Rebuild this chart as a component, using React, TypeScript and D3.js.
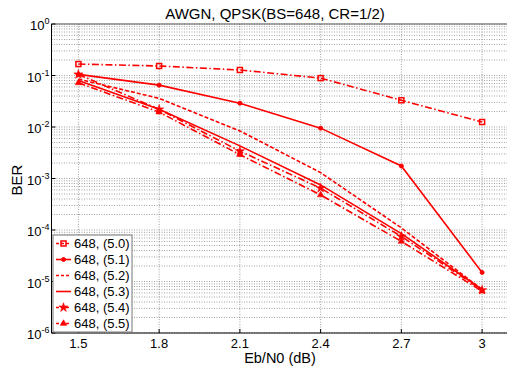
import React from "react";
import * as d3 from "d3";

const xTicks = [1.5, 1.8, 2.1, 2.4, 2.7, 3];
const xTickLabels = ["1.5", "1.8", "2.1", "2.4", "2.7", "3"];
const yExponents = [0, -1, -2, -3, -4, -5, -6];
const seriesNames = ["648, (5.0)", "648, (5.1)", "648, (5.2)", "648, (5.3)", "648, (5.4)", "648, (5.5)"];
const s50 = [0.167, 0.153, 0.128, 0.089, 0.033, 0.0125];
const s51 = [0.105, 0.065, 0.029, 0.0095, 0.00175, 1.5e-5];
const s52 = [0.085, 0.036, 0.0084, 0.0013, 1.1e-4, 7e-6];
const s53 = [0.08, 0.022, 0.0043, 7.5e-4, 8.5e-5, 7e-6];
const s54 = [0.105, 0.022, 0.0034, 6.5e-4, 7.5e-5, 6.8e-6];
const s55 = [0.072, 0.0195, 0.0029, 4.8e-4, 6e-5, 6.5e-6];
const seriesValues = [s50, s51, s52, s53, s54, s55];
const dashes = ["7,2.5,1.5,2.5", "none", "4,2", "none", "7,2.5,1.5,2.5", "7,2.5,1.5,2.5"];
const legendDashes = ["3,2", "none", "3,2", "none", "3,2", "3,2"];
const markers = ["square", "dot", "none", "none", "star", "triangle"];

const W = 507, H = 367;
const left = 51.5, top = 24, right = 509, bottom = 333;
const RED = "#ff0000";
const FONT = "Arial, 'Liberation Sans', sans-serif";

function Marker({ kind, x, y }: { kind: string; x: number; y: number }) {
  if (kind === "square") return <rect x={x - 2.5} y={y - 2.5} width={5} height={5} fill="none" stroke={RED} strokeWidth={1.5} />;
  if (kind === "dot") return <circle cx={x} cy={y} r={2} fill={RED} stroke={RED} />;
  if (kind === "star") {
    const p = d3.symbol(d3.symbolStar, 26)();
    return <path d={p || ""} transform={`translate(${x},${y})`} fill={RED} stroke={RED} strokeWidth={0.6} />;
  }
  if (kind === "triangle") {
    const p = d3.symbol(d3.symbolTriangle, 18)();
    return <path d={p || ""} transform={`translate(${x},${y})`} fill={RED} stroke={RED} strokeWidth={0.6} />;
  }
  return null;
}

export default function App() {
  const x = d3.scaleLinear().domain([1.4, 3.1]).range([left, right]);
  const y = d3.scaleLog().domain([1e-6, 1]).range([bottom, top]);
  const line = d3.line<number>().x((_, i) => x(xTicks[i])).y((v) => y(v));

  const minor: number[] = [];
  for (let e = -6; e < 0; e++) for (let m = 2; m <= 9; m++) minor.push(m * Math.pow(10, e));

  const legX = 53, legY = 235, legW = 79, legH = 97, rowH = 16;

  return (
    <svg width={W} height={H} style={{ position: "absolute", left: 0, top: 0, background: "#fff" }} fontFamily={FONT}>
      <rect x={0} y={0} width={W} height={H} fill="#fff" />
      <defs>
        <clipPath id="plotclip"><rect x={left} y={top} width={right - left} height={bottom - top} /></clipPath>
      </defs>
      {/* grid */}
      <g stroke="#8a8a8a" strokeWidth={0.8} strokeDasharray="1,1.5">
        {minor.map((v, i) => <line key={"m" + i} x1={left} x2={right} y1={y(v)} y2={y(v)} />)}
        {yExponents.map((e) => <line key={"M" + e} x1={left} x2={right} y1={y(Math.pow(10, e))} y2={y(Math.pow(10, e))} />)}
        {xTicks.map((t) => <line key={"x" + t} x1={x(t)} x2={x(t)} y1={top} y2={bottom} />)}
      </g>
      {/* axes box */}
      <g stroke="#000" strokeWidth={1} fill="none">
        <line x1={left} x2={right} y1={top} y2={top} stroke="#555" />
        <line x1={left} x2={right} y1={bottom} y2={bottom} />
        <line x1={left} x2={left} y1={top} y2={bottom} />
        {xTicks.map((t) => <line key={"tb" + t} x1={x(t)} x2={x(t)} y1={bottom} y2={bottom - 4} />)}
        {yExponents.map((e) => <line key={"tl" + e} x1={left} x2={left + 4} y1={y(Math.pow(10, e))} y2={y(Math.pow(10, e))} />)}
      </g>
      {/* series */}
      <g clipPath="url(#plotclip)">
        {seriesValues.map((vals, si) => (
          <g key={si}>
            <path d={line(vals) || ""} fill="none" stroke={RED} strokeWidth={1.6} strokeDasharray={dashes[si]} />
            {vals.map((v, i) => <Marker key={i} kind={markers[si]} x={x(xTicks[i])} y={y(v)} />)}
          </g>
        ))}
      </g>
      {/* x tick labels */}
      <g fontSize={13} textAnchor="middle" fill="#000">
        {xTicks.map((t, i) => <text key={t} x={x(t)} y={bottom + 15}>{xTickLabels[i]}</text>)}
      </g>
      {/* y tick labels */}
      <g fill="#000">
        {yExponents.map((e) => (
          <text key={e} x={left - 2} y={y(Math.pow(10, e)) + 6} fontSize={13} textAnchor="end">
            10<tspan fontSize={9} dy={-6}>{e === 0 ? "0" : String(e)}</tspan>
          </text>
        ))}
      </g>
      {/* title & labels */}
      <text x={275} y={19} fontSize={15} textAnchor="middle" fill="#000">AWGN, QPSK(BS=648, CR=1/2)</text>
      <text x={280} y={363} fontSize={14.5} textAnchor="middle" fill="#000">Eb/N0 (dB)</text>
      <text transform={`translate(22,180) rotate(-90)`} fontSize={15} textAnchor="middle" fill="#000">BER</text>
      {/* legend */}
      <g>
        <rect x={legX} y={legY} width={legW} height={legH} fill="#fff" stroke="#777" strokeWidth={1} />
        {seriesNames.map((n, i) => {
          const cy = legY + 8.5 + i * rowH;
          return (
            <g key={n}>
              <line x1={legX + 3} x2={legX + 18} y1={cy} y2={cy} stroke={RED} strokeWidth={1.6} strokeDasharray={legendDashes[i]} />
              <Marker kind={markers[i]} x={legX + 10.5} y={cy} />
              <text x={legX + 21} y={cy + 4.5} fontSize={13} fill="#000">{n}</text>
            </g>
          );
        })}
      </g>
    </svg>
  );
}
